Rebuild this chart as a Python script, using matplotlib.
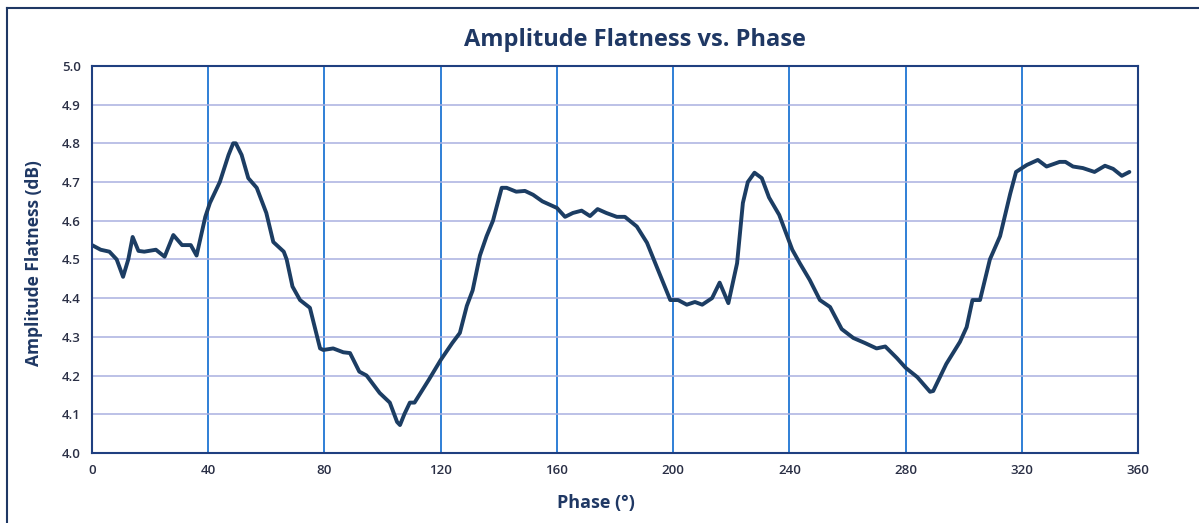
import matplotlib.pyplot as plt
from matplotlib.lines import Line2D

# Phase (deg) and amplitude flatness (dB)
phase = [0, 3, 6, 8.5, 10.7, 12.5, 14, 16, 18, 22, 25, 28, 31, 34, 36, 39, 40.6,
         44, 47, 48.6, 49.5, 51.5, 53.8, 56.7, 60, 62.4, 66, 67, 69, 71.6, 75, 78.5,
         79.6, 83, 86.5, 88.8, 92, 94.5, 99, 102.5, 105, 106, 107.5, 109.4, 111, 116,
         120, 124, 126.6, 129, 131, 133.5, 135.8, 138, 141, 142.7, 146, 149, 151.8,
         155, 160, 162.8, 165.5, 168.5, 171.4, 174, 177, 180.6, 183.4, 187.5, 191,
         194.4, 199, 201.7, 204.7, 207.5, 210, 213.4, 216, 219, 222, 224, 225.7, 228,
         230.5, 233, 236.5, 241, 243.6, 247, 250.5, 254, 258, 262, 266, 270, 273, 277,
         280, 284, 288.4, 289.5, 294, 298.7, 301, 303, 305.6, 309, 312.5, 316, 318,
         321.7, 325.5, 328.5, 333, 335, 337.6, 341, 345, 348.6, 351.4, 354.4, 357]
flatness = [4.537, 4.525, 4.52, 4.5, 4.455, 4.5, 4.558, 4.522, 4.52, 4.525, 4.507,
            4.563, 4.537, 4.537, 4.51, 4.61, 4.646, 4.70, 4.77, 4.80, 4.80, 4.77, 4.71,
            4.685, 4.62, 4.545, 4.52, 4.50, 4.43, 4.395, 4.375, 4.27, 4.266, 4.27,
            4.26, 4.258, 4.21, 4.20, 4.155, 4.13, 4.08, 4.072, 4.10, 4.13, 4.13, 4.19,
            4.24, 4.284, 4.31, 4.38, 4.42, 4.51, 4.56, 4.60, 4.685, 4.685, 4.675,
            4.677, 4.667, 4.65, 4.633, 4.61, 4.62, 4.626, 4.612, 4.63, 4.62, 4.61,
            4.61, 4.585, 4.543, 4.48, 4.395, 4.395, 4.383, 4.39, 4.383, 4.40, 4.44,
            4.387, 4.49, 4.646, 4.70, 4.724, 4.71, 4.66, 4.615, 4.525, 4.49, 4.447,
            4.395, 4.377, 4.32, 4.297, 4.284, 4.27, 4.275, 4.245, 4.22, 4.196, 4.158,
            4.16, 4.23, 4.287, 4.325, 4.395, 4.395, 4.50, 4.56, 4.67, 4.726, 4.744,
            4.757, 4.74, 4.752, 4.752, 4.74, 4.736, 4.726, 4.742, 4.734, 4.716, 4.726]

x_ticks = [0, 40, 80, 120, 160, 200, 240, 280, 320, 360]
y_ticks = [4.0, 4.1, 4.2, 4.3, 4.4, 4.5, 4.6, 4.7, 4.8, 4.9, 5.0]

navy = '#1f3864'

plt.rcParams['font.family'] = ['Open Sans', 'DejaVu Sans']

fig = plt.figure(figsize=(11.99, 5.23), dpi=100)
ax = fig.add_axes([0.0767, 0.134, 0.8725, 0.740])

ax.plot(phase, flatness, color='#1c3d63', linewidth=2.8, solid_capstyle='round',
        solid_joinstyle='round')

ax.set_xlim(0, 360)
ax.set_ylim(4.0, 5.0)
ax.set_xticks(x_ticks)
ax.set_yticks(y_ticks)
ax.set_yticklabels([f'{v:.1f}' for v in y_ticks])
ax.tick_params(length=0, labelsize=9.5, labelcolor='#2a2f45', pad=8)
for lab in ax.get_xticklabels() + ax.get_yticklabels():
    lab.set_fontweight('semibold')

ax.xaxis.grid(True, color='#2f7fd6', linewidth=1.4)
ax.yaxis.grid(True, color='#a9b0e0', linewidth=1.1)
ax.set_axisbelow(True)
for s in ax.spines.values():
    s.set_color('#1f3f80')
    s.set_linewidth(1.5)

ax.set_title('Amplitude Flatness vs. Phase', fontsize=17, fontweight='bold',
             color=navy, x=0.519, pad=14)
ax.set_xlabel('Phase (°)', fontsize=13, fontweight='bold', color=navy)
ax.xaxis.set_label_coords(0.482, -0.105)
ax.set_ylabel('Amplitude Flatness (dB)', fontsize=12.5, fontweight='bold', color=navy)
ax.yaxis.set_label_coords(-0.047, 0.49)

# outer frame around the chart
fig.add_artist(Line2D([0.006, 0.006], [0, 0.985], color=navy, linewidth=1.5))
fig.add_artist(Line2D([0.006, 1.0], [0.985, 0.985], color=navy, linewidth=1.5))

fig.savefig('out.png', dpi=100)
